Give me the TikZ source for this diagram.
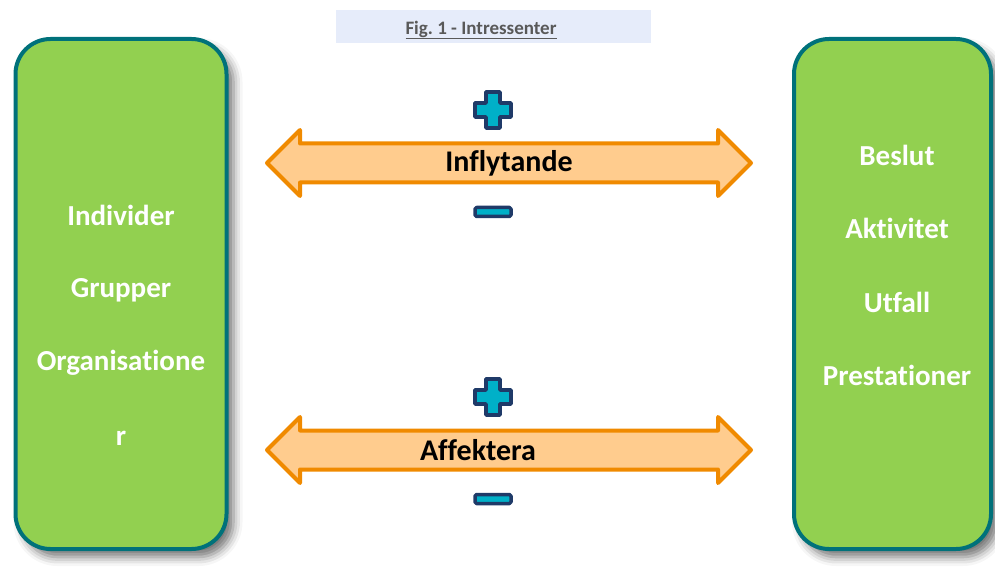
\documentclass[tikz,border=0pt]{standalone}
\usepackage{fontspec}
\setmainfont{Carlito}[RawFeature={-liga;-clig;-calt;-dlig}]
\usetikzlibrary{shapes.arrows,shadows.blur}
\frenchspacing

\definecolor{boxgreen}{HTML}{92D050}
\definecolor{boxteal}{HTML}{00717A}
\definecolor{arroworange}{HTML}{F08A00}
\definecolor{arrowfill}{HTML}{FFCC8E}
\definecolor{signnavy}{HTML}{1F3A68}
\definecolor{signcyan}{HTML}{00B0C8}
\definecolor{titlebg}{HTML}{E6ECFA}
\definecolor{titlegrey}{HTML}{595959}

\tikzset{
  actorbox/.style={draw=boxteal, line width=4pt, fill=boxgreen, rounded corners=35pt,
    blur shadow={shadow xshift=7pt, shadow yshift=-8pt, shadow blur radius=9pt, shadow opacity=55}},
  boxtext/.style={text=white, font=\bfseries\fontsize{29}{34}\selectfont},
  twoway/.style={double arrow, draw=arroworange, line width=4pt, fill=arrowfill, line join=round,
    minimum height=484pt, inner xsep=0pt, inner ysep=4pt, text height=27pt, text depth=0pt,
    double arrow head extend=13.5pt, double arrow tip angle=90},
  arrowtext/.style={font=\bfseries\fontsize{30}{34}\selectfont},
  sign/.style={draw=signnavy, fill=signcyan, line width=3.5pt, line join=round},
}

\begin{document}
\begin{tikzpicture}[x=1pt, y=-1pt]
      \useasboundingbox (0,0) rectangle (995,577);

      % title bar
      \fill[titlebg] (336,10) rectangle (651,43);
      \node[text=titlegrey, font=\bfseries\fontsize{19}{22}\selectfont] (title) at (481,30) {\underline{Fig. 1 - Intressenter}};

      % the two green boxes
      \node[actorbox, minimum width=211pt, minimum height=510pt] (left) at (121,294) {};
      \node[actorbox, minimum width=197pt, minimum height=510pt] (right) at (892.5,294) {};

      \foreach \i/\y/\txt in {1/215/Individer, 2/290/Grupper, 3/363/Organisatione, 4/438/r}{
        \node[boxtext] (l\i) at (121,\y) {\txt};
      }
      \foreach \i/\y/\txt in {1/155/Beslut, 2/228/Aktivitet, 3/302/Utfall, 4/375/Prestationer}{
        \node[boxtext] (r\i) at (897,\y) {\txt};
      }

      % double arrows between the boxes
      \node[twoway] (infl) at (509,163) {};
      \node[twoway] (affe) at (509,450) {};
      \node[arrowtext] (infltext) at (509,163) {Inflytande};
      \node[arrowtext] (affetext) at (478,450) {Affektera};

      % plus above, minus below each arrow
      \foreach \y in {110, 397}{
        \draw[sign] (486,\y-18) -- (500,\y-18) -- (500,\y-7) -- (511,\y-7) -- (511,\y+7) -- (500,\y+7)
          -- (500,\y+18) -- (486,\y+18) -- (486,\y+7) -- (475,\y+7) -- (475,\y-7) -- (486,\y-7) -- cycle;
      }
      \foreach \y in {212, 499}{
        \draw[sign, rounded corners=1.5pt] (475,\y-4.5) rectangle (511,\y+4.5);
      }
    \end{tikzpicture}
\end{document}
